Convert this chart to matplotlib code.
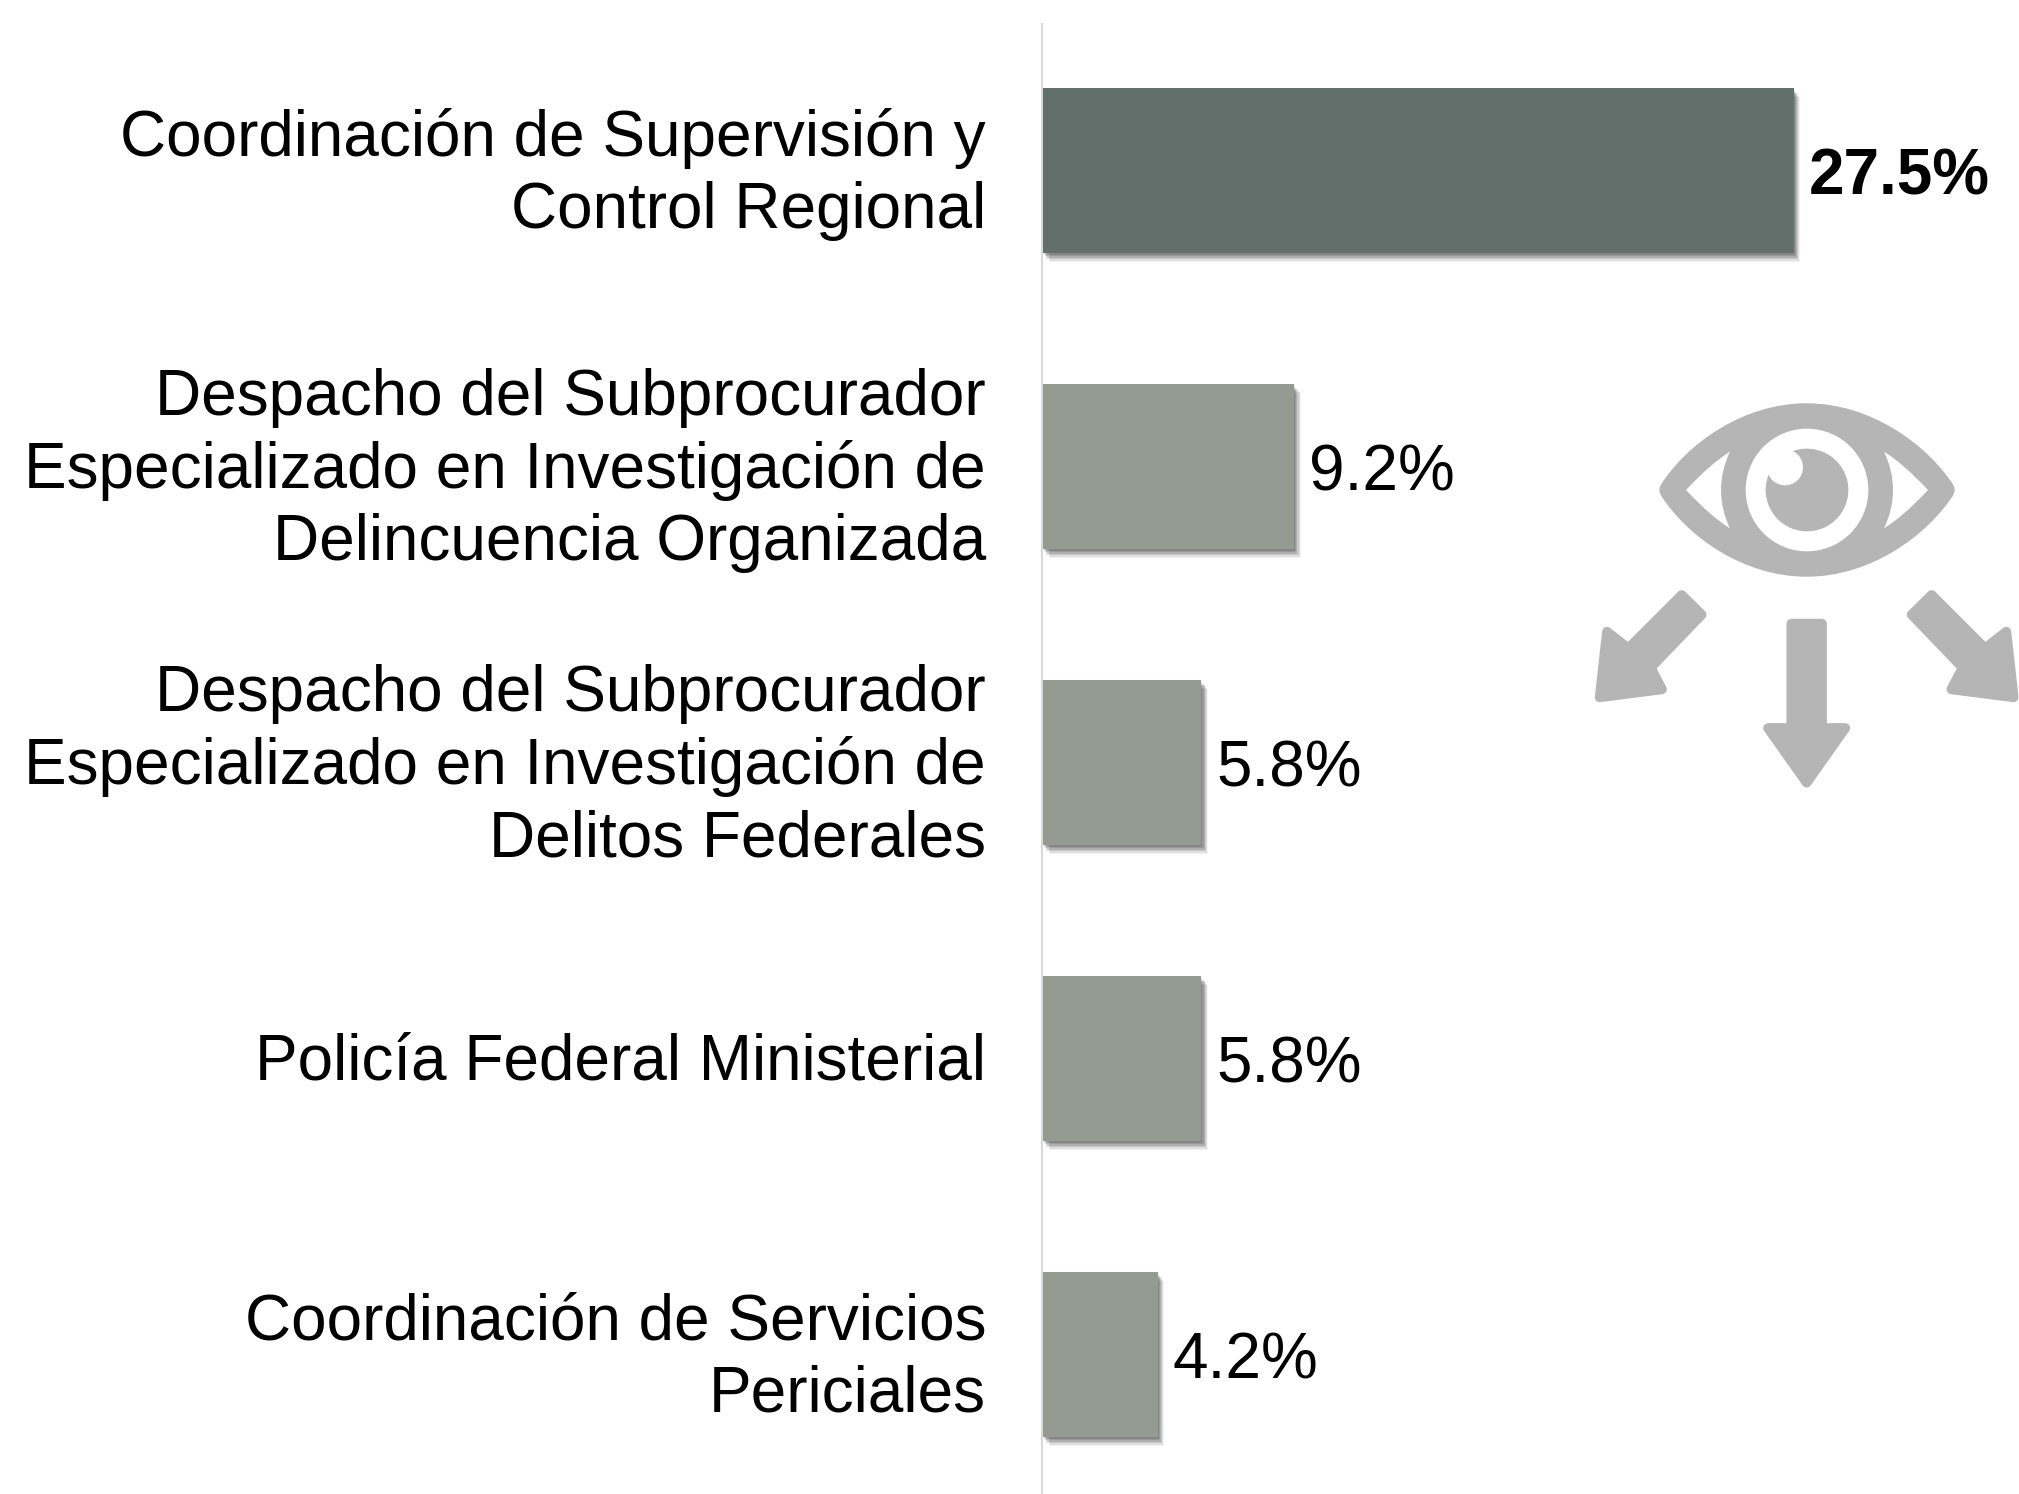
import matplotlib
matplotlib.use('Agg')
import matplotlib.pyplot as plt
import matplotlib.patheffects as pe
from matplotlib.path import Path
from matplotlib.patches import PathPatch, Circle, Polygon
from matplotlib.transforms import ScaledTranslation

plt.rcParams['font.family'] = ['Liberation Sans', 'DejaVu Sans']

categories = ['Coordinación de Supervisión y\nControl Regional',
              'Despacho del Subprocurador\nEspecializado en Investigación de\nDelincuencia Organizada',
              'Despacho del Subprocurador\nEspecializado en Investigación de\nDelitos Federales',
              'Policía Federal Ministerial',
              'Coordinación de Servicios\nPericiales']
values = [27.5, 9.2, 5.8, 5.8, 4.2]
value_labels = ['27.5%', '9.2%', '5.8%', '5.8%', '4.2%']
bar_colors = ['#62706B', '#949C92', '#949C92', '#949C92', '#949C92']

W, H = 2019, 1494
fig = plt.figure(figsize=(W / 100, H / 100), dpi=100, facecolor='white')

# axes runs from the grey baseline to the right edge of the picture
ax = fig.add_axes([1043 / W, 0, (W - 1043) / W, (H - 24) / H])
y_pos = list(range(len(values)))
bars = ax.barh(y_pos, values, height=0.557, color=bar_colors, zorder=3)

# soft shadow, a few stacked layers
for b in bars:
    b.set_path_effects([
        pe.SimplePatchShadow(offset=(4.8, -6.5), shadow_rgbFace='#000000', alpha=0.05),
        pe.SimplePatchShadow(offset=(4.0, -5.5), shadow_rgbFace='#000000', alpha=0.08),
        pe.SimplePatchShadow(offset=(3.2, -4.5), shadow_rgbFace='#000000', alpha=0.10),
        pe.SimplePatchShadow(offset=(2.4, -3.5), shadow_rgbFace='#000000', alpha=0.12),
        pe.SimplePatchShadow(offset=(1.6, -2.5), shadow_rgbFace='#000000', alpha=0.12),
        pe.SimplePatchShadow(offset=(0.8, -1.5), shadow_rgbFace='#000000', alpha=0.12),
        pe.Normal()])

ax.set_xlim(0, 976 / 27.3)
ax.set_ylim((1494 - 170.5) / 296, -(170.5 - 24) / 296)
ax.patch.set_alpha(0)

for s in ['top', 'right', 'bottom']:
    ax.spines[s].set_visible(False)
ax.spines['left'].set_color('#D9D9D9')
ax.spines['left'].set_linewidth(1.5)
ax.spines['left'].set_position(('outward', 0.7))
ax.set_xticks([])
ax.set_yticks(y_pos)
ax.set_yticklabels(categories, fontsize=46, color='black', linespacing=1.254, ha='right')
ax.tick_params(axis='y', length=0, pad=40.3)

# multi line labels sit a bit high in the original
for lab, txt in zip(ax.get_yticklabels(), categories):
    dy = 6.0 if '\n' in txt else 1.5
    lab.set_transform(lab.get_transform() + ScaledTranslation(0, dy / 72, fig.dpi_scale_trans))

for i, v in enumerate(values):
    ax.annotate(value_labels[i], (v, i), xytext=(11, -5), textcoords='offset points',
                va='center', ha='left', fontsize=46, color='black',
                fontweight='bold' if i == 0 else 'normal')

# eye icon, drawn on a layer in picture pixels
ov = fig.add_axes([0, 0, 1, 1], zorder=5)
ov.set_xlim(0, W)
ov.set_ylim(H, 0)
ov.axis('off')
ICON = '#B5B5B5'


def zp(x, y):
    return (1560 + x / 3, 380 + y / 3)


def curve(start, segs):
    verts = [zp(*start)]
    codes = [Path.MOVETO]
    for c1, c2, p in segs:
        verts += [zp(*c1), zp(*c2), zp(*p)]
        codes += [Path.CURVE4] * 3
    verts.append(verts[0])
    codes.append(Path.CLOSEPOLY)
    return Path(verts, codes)


outer = curve((327, 330), [((400, 215), (560, 99), (740, 99)),
                           ((920, 99), (1080, 215), (1155, 330)),
                           ((1080, 445), (920, 561), (740, 561)),
                           ((560, 561), (400, 445), (327, 330))])
ov.add_patch(PathPatch(outer, fc=ICON, ec=ICON, lw=14, joinstyle='round'))

left_w = curve((378, 330), [((430, 275), (470, 240), (510, 215)),
                            ((474, 290), (474, 370), (510, 445)),
                            ((470, 420), (430, 385), (378, 330))])
right_w = curve((1104, 330), [((1052, 275), (1012, 240), (972, 215)),
                              ((1008, 290), (1008, 370), (972, 445)),
                              ((1012, 420), (1052, 385), (1104, 330))])
ov.add_patch(PathPatch(left_w, fc='white', ec='none'))
ov.add_patch(PathPatch(right_w, fc='white', ec='none'))

cx, cy = zp(741, 330)
ov.add_patch(Circle((cx, cy), 184 / 3, fc='white', ec='none'))
ov.add_patch(Circle((cx, cy), 124 / 3, fc=ICON, ec='none'))
ov.add_patch(Circle(zp(675, 262), 54 / 3, fc='white', ec='none'))

down = [(694, 731), (786, 731), (786, 1044), (856, 1044), (740, 1208), (624, 1044), (694, 1044)]
left = [(365, 645), (425, 704), (272, 863), (306, 928), (119, 952), (141, 755), (205, 805)]
right = [(1480 - x, y) for x, y in left]
for shape in [down, left, right]:
    ov.add_patch(Polygon([zp(x, y) for x, y in shape], closed=True, fc=ICON, ec=ICON,
                         lw=7, joinstyle='round'))

fig.savefig('out.png', dpi=100, facecolor='white')
